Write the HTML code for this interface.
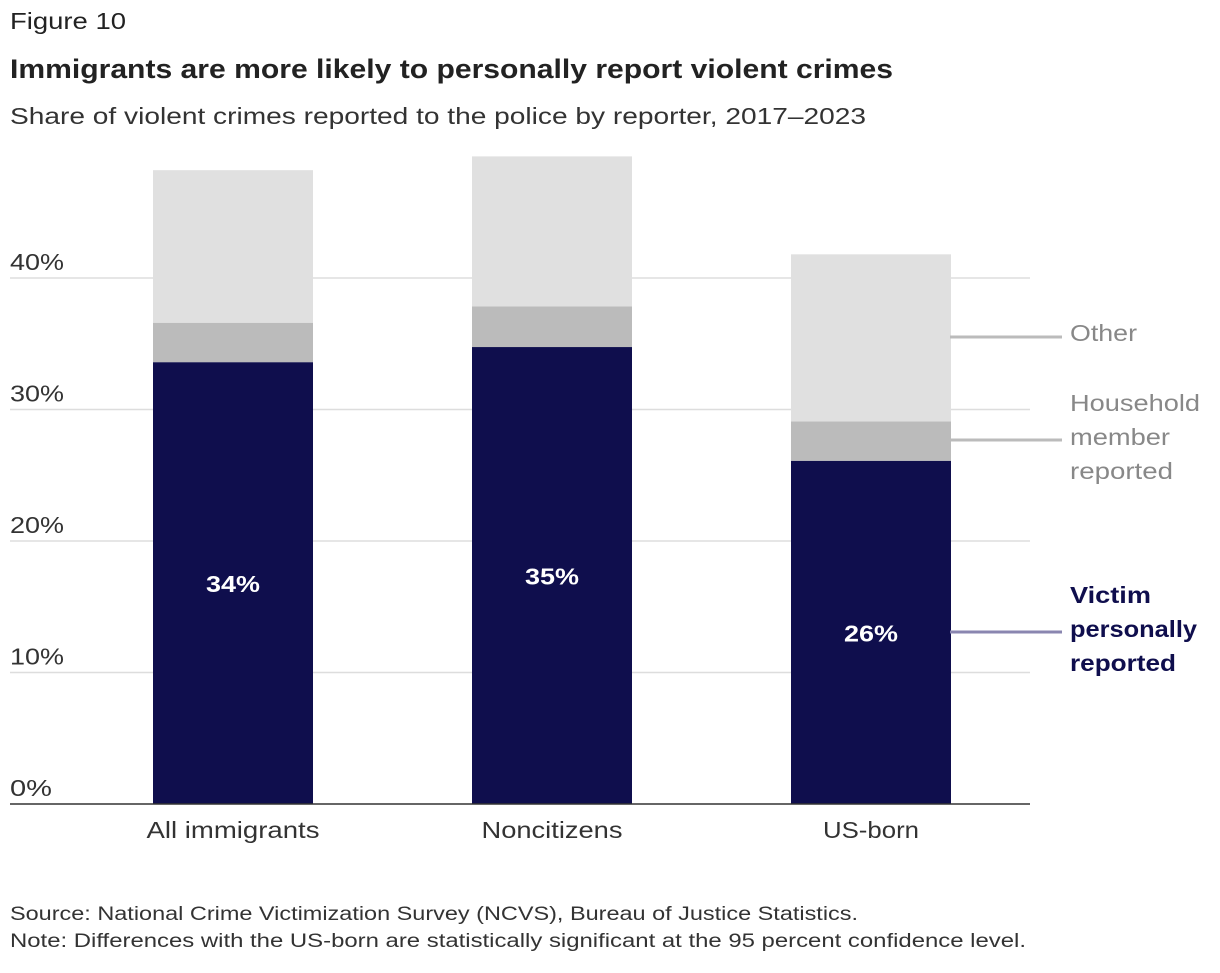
<!DOCTYPE html>
<html><head><meta charset="utf-8"><style>
body{margin:0;background:#fff;font-family:"Liberation Sans",sans-serif;}
svg text{font-family:"Liberation Sans",sans-serif;}
</style></head><body>
<svg id="c" width="1220" height="968">
<text x="10" y="29" font-size="23" fill="#222" textLength="116" lengthAdjust="spacingAndGlyphs">Figure 10</text>
<text x="10" y="78" font-size="27" font-weight="bold" fill="#222" textLength="883" lengthAdjust="spacingAndGlyphs">Immigrants are more likely to personally report violent crimes</text>
<text x="10" y="124" font-size="23" fill="#333" textLength="856" lengthAdjust="spacingAndGlyphs">Share of violent crimes reported to the police by reporter, 2017–2023</text>
<g id="grid"></g><g id="bars"></g>
<line x1="10" x2="1030" y1="804" y2="804" stroke="#333" stroke-width="1.5"/>
<line x1="950" x2="1062" y1="337" y2="337" stroke="#bbb" stroke-width="3"/>
<text x="1070" y="341" font-size="23" fill="#888" textLength="67" lengthAdjust="spacingAndGlyphs">Other</text>
<line x1="950" x2="1062" y1="440" y2="440" stroke="#bbb" stroke-width="3"/>
<text font-size="23" fill="#888"><tspan x="1070" y="411" textLength="130" lengthAdjust="spacingAndGlyphs">Household</tspan><tspan x="1070" y="445" textLength="100" lengthAdjust="spacingAndGlyphs">member</tspan><tspan x="1070" y="479" textLength="103" lengthAdjust="spacingAndGlyphs">reported</tspan></text>
<line x1="950" x2="1062" y1="632" y2="632" stroke="#8a86b0" stroke-width="3"/>
<text font-size="23" font-weight="bold" fill="#0f0e4d"><tspan x="1070" y="603" textLength="81" lengthAdjust="spacingAndGlyphs">Victim</tspan><tspan x="1070" y="637" textLength="127" lengthAdjust="spacingAndGlyphs">personally</tspan><tspan x="1070" y="671" textLength="106" lengthAdjust="spacingAndGlyphs">reported</tspan></text>
<text x="10" y="920" font-size="19" fill="#333" textLength="848" lengthAdjust="spacingAndGlyphs">Source: National Crime Victimization Survey (NCVS), Bureau of Justice Statistics.</text>
<text x="10" y="947" font-size="19" fill="#333" textLength="1016" lengthAdjust="spacingAndGlyphs">Note: Differences with the US-born are statistically significant at the 95 percent confidence level.</text>
</svg>
<script>
const categories=["All immigrants","Noncitizens","US-born"];
const victim=[33.6,34.75,26.1];
const household=[3.0,3.1,3.0];
const other=[11.6,11.4,12.7];
const victimLabels=["34%","35%","26%"];
const yTicks=[0,10,20,30,40];
const catWidths=[173,141,96];
const NS="http://www.w3.org/2000/svg";
const y=v=>804-v*13.15;
const xc=i=>233+i*319;
function mk(t,a,p){const e=document.createElementNS(NS,t);for(const k in a)e.setAttribute(k,a[k]);p.appendChild(e);return e;}
const g=document.getElementById('grid'),b=document.getElementById('bars');
yTicks.forEach(t=>{
 if(t>0){const l=mk('line',{x1:10,x2:1030,y1:y(t),y2:y(t),stroke:'#ddd','stroke-width':1.5},g);
 
 }
 const tx=mk('text',{x:10,y:y(t)-8,'font-size':23,fill:'#333',textLength:t>0?54:42,lengthAdjust:'spacingAndGlyphs'},g);tx.textContent=t+'%';
 
 
});
categories.forEach((c,i)=>{
 const x=xc(i)-80;
 const segs=[[0,victim[i],'#0f0e4d','victim'],[victim[i],household[i],'#bbbbbb','household'],[victim[i]+household[i],other[i],'#e0e0e0','other']];
 segs.forEach(s=>{const r=mk('rect',{x:x,y:y(s[0]+s[1]),width:160,height:s[1]*13.15,fill:s[2]},b);
 
 });
 const vl=mk('text',{x:xc(i),y:(y(victim[i])+804)/2+9,'font-size':23,'font-weight':'bold',fill:'#fff','text-anchor':'middle',textLength:54,lengthAdjust:'spacingAndGlyphs'},b);vl.textContent=victimLabels[i];
 
 
 const cl=mk('text',{x:xc(i),y:838,'font-size':23,fill:'#333','text-anchor':'middle',textLength:catWidths[i],lengthAdjust:'spacingAndGlyphs'},b);cl.textContent=c;
 
 
});
</script>
</body></html>
